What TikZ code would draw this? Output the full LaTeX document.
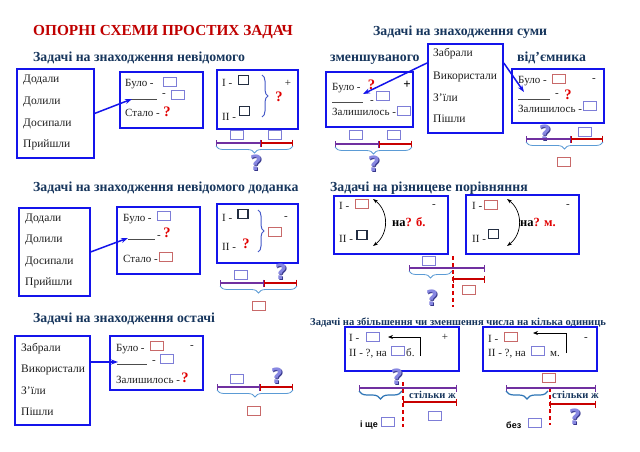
\documentclass[tikz,border=0pt]{standalone}
\usepackage{fontspec}
\setmainfont{Liberation Serif}
\newfontfamily\sansf{Liberation Sans}
\newfontfamily\qfont{DejaVu Sans}
\usetikzlibrary{decorations.pathreplacing,arrows.meta}
\definecolor{bx}{RGB}{20,20,235}
\definecolor{ttlc}{RGB}{23,54,93}
\definecolor{mred}{RGB}{192,0,0}
\definecolor{qred}{RGB}{225,0,0}
\definecolor{sqbc}{RGB}{125,125,215}
\definecolor{sqrc}{RGB}{200,105,105}
\definecolor{sqdc}{RGB}{35,45,65}
\definecolor{purp}{RGB}{112,48,160}
\definecolor{lred}{RGB}{200,0,0}
\definecolor{brc}{RGB}{91,155,213}
\definecolor{brd}{RGB}{46,117,182}
\definecolor{vbr}{RGB}{70,90,200}
\definecolor{qlav}{RGB}{135,135,225}
\definecolor{qdark}{RGB}{55,55,140}
\definecolor{txtc}{RGB}{30,30,30}
\newcommand\bigQ[3]{\node[bqd] (#1d) at (#2+0.9,#3+0.9) {?}; \node[bq] (#1) at (#2,#3) {?};}
\begin{document}
\begin{tikzpicture}[x=1pt,y=-1pt,
  box/.style={draw=bx,line width=1.8pt,anchor=north west,inner sep=0,fill=white},
  t/.style={anchor=base west,inner sep=0,text=txtc,font=\fontsize{11.5}{13}\selectfont},
  tb/.style={anchor=base west,inner sep=0,text=txtc,font=\fontsize{11}{13}\selectfont},
  tc/.style={inner sep=0,text=txtc,font=\fontsize{11}{13}\selectfont},
  ttl/.style={anchor=base west,inner sep=0,text=ttlc,font=\bfseries\fontsize{13.8}{16}\selectfont},
  rq/.style={inner sep=0,text=qred,font=\bfseries\fontsize{14.5}{16}\selectfont},
  sqb/.style={draw=sqbc,line width=0.8pt,minimum width=13pt,minimum height=9pt,inner sep=0},
  sqr/.style={draw=sqrc,line width=0.8pt,minimum width=13pt,minimum height=9pt,inner sep=0},
  sqd/.style={draw=sqdc,line width=1.3pt,minimum width=10pt,minimum height=9.5pt,inner sep=0},
  bq/.style={inner sep=0,text=qlav,font=\qfont\bfseries\fontsize{21}{22}\selectfont},
  bqd/.style={inner sep=0,text=qdark,font=\qfont\bfseries\fontsize{21}{22}\selectfont},
  bar/.style={line width=1.3pt,{Bar[width=7pt]}-{Bar[width=7pt]}},
  pl/.style={bar,draw=purp},
  rl/.style={bar,draw=lred},
  br/.style={decorate,decoration={brace,amplitude=7pt},draw=brc,line width=0.8pt},
  vb/.style={decorate,decoration={brace,amplitude=6pt},draw=vbr,line width=1pt},
  barr/.style={draw=bx,line width=1.5pt,-{Stealth[length=7pt,width=5pt]}},
  uline/.style={draw=black!70,line width=0.6pt},
  dbl/.style={draw=black,line width=0.7pt,{Stealth[length=5pt,width=3.5pt]}-{Stealth[length=5pt,width=3.5pt]}},
  sarr/.style={draw=black,line width=0.8pt,-{Stealth[length=5pt,width=4pt]}},
  rdash/.style={draw=red!85!black,line width=1.2pt,dash pattern=on 4pt off 3pt},
  sj/.style={anchor=base west,inner sep=0,text=ttlc,font=\bfseries\fontsize{10.6}{12}\selectfont},
  sb/.style={anchor=base west,inner sep=0,text=black,font=\sansf\bfseries\fontsize{9}{11}\selectfont}
]
\useasboundingbox[fill=white] (0,0) rectangle (640,452);

% ===== Title =====
\node[anchor=base west,inner sep=0,text=mred,font=\bfseries\fontsize{15.3}{17}\selectfont] (title) at (33,36) {ОПОРНІ СХЕМИ ПРОСТИХ ЗАДАЧ};

% ===== Section 1 =====
\node[ttl] (s1t) at (33,62) {Задачі на знаходження невідомого};
\node[box,minimum width=77pt,minimum height=89pt] (L1) at (16,68) {};
\node[t] (L1a) at (23,83) {Додали};
\node[t] (L1b) at (23,104) {Долили};
\node[t] (L1c) at (23,126) {Досипали};
\node[t] (L1d) at (23,147) {Прийшли};

\node[box,minimum width=83pt,minimum height=56pt] (B1) at (119,71) {};
\node[tb] (B1a) at (125,86) {Було~-};
\node[sqb] (B1s1) at (169.5,81.5) {};
\draw[uline] (128,99) -- (157,99);
\node[tc] (B1m) at (164,95) {-};
\node[sqb] (B1s2) at (177.5,94.5) {};
\node[tb] (B1c) at (125,116) {Стало -};
\node[rq] (B1q) at (167,112) {?};
\coordinate (a1) at (132,99);
\draw[barr] (L1.east) -- (a1);

\node[box,minimum width=81pt,minimum height=59pt] (C1) at (216,69) {};
\node[tb] (C1a) at (222,86) {I -};
\node[sqd] (C1s1) at (243.5,80) {};
\node[tb] (C1b) at (222,121) {II -};
\node[sqd] (C1s2) at (244.5,111) {};
\draw[vb] (262,75) -- (262,117);
\node[tc] (C1p) at (288,83) {+};
\node[rq] (C1q) at (279,97) {?};
\node[sqb] (D1s1) at (236.5,135) {};
\node[sqb] (D1s2) at (274.5,135) {};
\draw[pl] (216,143) -- (261,143);
\draw[rl] (261,143) -- (293,143);
\draw[br] (293,146) -- (216,146);
\bigQ{D1q}{256}{163}

% ===== Section 2 =====
\node[ttl] (s2t) at (373,36) {Задачі на знаходження суми};
\node[ttl] (s2l) at (330,62) {зменшуваного};
\node[ttl] (s2r) at (517,62) {від'ємника};
\node[box,minimum width=75pt,minimum height=89pt] (R1) at (427,43) {};
\node[t] (R1a) at (433,57) {Забрали};
\node[t] (R1b) at (433,79) {Використали};
\node[t] (R1c) at (433,102) {З’їли};
\node[t] (R1d) at (433,122) {Пішли};

\node[box,minimum width=87pt,minimum height=55pt] (RL) at (325,71) {};
\node[tb] (RLa) at (332,90) {Було~-};
\node[rq] (RLq) at (371.5,85) {?};
\node[inner sep=0,font=\bfseries\fontsize{13}{15}\selectfont] (RLp) at (407,85) {+};
\draw[uline] (332,102) -- (363,102);
\node[tc,anchor=base] (RLm) at (372,103) {-};
\node[sqb] (RLs1) at (383,96) {};
\node[tb] (RLc) at (332,115) {Залишилось -};
\node[sqb] (RLs2) at (403.5,110.5) {};
\coordinate (a2) at (363,94);
\draw[barr] ([yshift=-20pt]R1.north west) -- (a2);
\node[sqb] (D2s1) at (356,135) {};
\node[sqb] (D2s2) at (394,135) {};
\draw[pl] (335,144) -- (379,144);
\draw[rl] (379,144) -- (412,144);
\draw[br] (412,147) -- (335,147);
\bigQ{D2q}{374}{164}

\node[box,minimum width=92pt,minimum height=54pt] (RR) at (511,68) {};
\node[tb] (RRa) at (518,84) {Було~-};
\node[sqr] (RRs1) at (559,79) {};
\node[tc] (RRm1) at (594,80) {-};
\draw[uline] (518,99) -- (550,99);
\node[tc] (RRm2) at (557,95) {-};
\node[rq] (RRq) at (568,95) {?};
\node[tb] (RRc) at (518,113) {Залишилось -};
\node[sqb] (RRs2) at (589.5,106) {};
\coordinate (a3) at (524,92);
\draw[barr] ([yshift=-20pt]R1.north east) -- (a3);
\bigQ{D3q}{545}{133}
\node[sqb] (D3s1) at (585,132) {};
\draw[pl] (526,139) -- (571,139);
\draw[rl] (571,139) -- (603,139);
\draw[br] (603,142) -- (526,142);
\node[sqr] (D3s2) at (564,161.5) {};

% ===== Section 3 =====
\node[ttl] (s3t) at (33,191) {Задачі на знаходження невідомого доданка};
\node[box,minimum width=71pt,minimum height=88pt] (L3) at (18,207) {};
\node[t] (L3a) at (25,221) {Додали};
\node[t] (L3b) at (25,242) {Долили};
\node[t] (L3c) at (25,264) {Досипали};
\node[t] (L3d) at (25,285) {Прийшли};

\node[box,minimum width=83pt,minimum height=67pt] (B3) at (116,206) {};
\node[tb] (B3a) at (123,221) {Було~-};
\node[sqb] (B3s1) at (163.5,215.5) {};
\draw[uline] (128,239) -- (155,239);
\node[tc] (B3m) at (159,237) {-};
\node[rq] (B3q) at (167,233) {?};
\node[tb] (B3c) at (123,262) {Стало -};
\node[sqr] (B3s2) at (166,256.5) {};
\coordinate (a4) at (128,238);
\draw[barr] (L3.east) -- (a4);

\node[box,minimum width=81pt,minimum height=59pt] (C3) at (216,203) {};
\node[tb] (C3a) at (222,221) {I -};
\node[sqd] (C3s1) at (243,214) {};
\node[tb] (C3b) at (222,250) {II -};
\node[rq] (C3q) at (246,244) {?};
\draw[vb] (258,210) -- (258,252);
\node[sqr] (C3s2) at (274.5,232) {};
\node[tc] (C3m) at (286,218) {-};
\node[sqb] (D4s1) at (240.5,275) {};
\bigQ{D4q}{281}{272}
\draw[pl] (220,283) -- (264,283);
\draw[rl] (264,283) -- (297,283);
\draw[br] (297,286) -- (220,286);
\node[sqr] (D4s2) at (258.5,306) {};

% ===== Section 4 =====
\node[ttl] (s4t) at (330,191) {Задачі на різницеве порівняння};
\node[box,minimum width=114pt,minimum height=58pt] (A4) at (333,195) {};
\node[tb] (A4a) at (339,209) {I -};
\node[sqr] (A4s1) at (362,204) {};
\node[tb] (A4b) at (339,242) {II -};
\node[sqd] (A4s2) at (362,235) {};
\coordinate (c4a) at (373,199);
\coordinate (c4b) at (373,246);
\draw[dbl] (c4a) .. controls (389,211) and (389,234) .. (c4b);
\node[anchor=base west,inner sep=0,font=\bfseries\fontsize{12.5}{14}\selectfont] (A4n) at (392,226) {на\textcolor{qred}{? б.}};
\node[tc] (A4m) at (434,206) {-};

\node[box,minimum width=113pt,minimum height=59pt] (B4) at (465,194) {};
\node[tb] (B4a) at (472,209) {I -};
\node[sqr] (B4s1) at (491,204.5) {};
\node[tb] (B4b) at (472,242) {II -};
\node[sqd] (B4s2) at (493.5,234) {};
\coordinate (c4c) at (507,199);
\coordinate (c4d) at (507,246);
\draw[dbl] (c4c) .. controls (523,211) and (523,234) .. (c4d);
\node[anchor=base west,inner sep=0,font=\bfseries\fontsize{12.5}{14}\selectfont] (B4n) at (520,226) {на\textcolor{qred}{? м.}};
\node[tc] (B4m) at (568,206) {-};

\node[sqb] (D5s1) at (429,261) {};
\draw[rdash] (453,256) -- (453,307);
\draw[pl] (409,268) -- (485,268);
\draw[rl] (453,279) -- (485,279);
\node[sqr] (D5s2) at (469,290) {};
\draw[br] (452,271) -- (409,271);
\bigQ{D5q}{432}{298}

% ===== Section 5 =====
\node[ttl] (s5t) at (33,322) {Задачі на знаходження остачі};
\node[box,minimum width=75pt,minimum height=89pt] (L5) at (14,335) {};
\node[t] (L5a) at (21,351) {Забрали};
\node[t] (L5b) at (21,372) {Використали};
\node[t] (L5c) at (21,394) {З’їли};
\node[t] (L5d) at (21,415) {Пішли};

\node[box,minimum width=93pt,minimum height=54pt] (B5) at (109,335) {};
\node[tb] (B5a) at (116,351) {Було~-};
\node[sqr] (B5s1) at (156.5,345.5) {};
\node[tc] (B5m1) at (192,347) {-};
\draw[uline] (117,364) -- (147,364);
\node[tc] (B5m2) at (154,362) {-};
\node[sqb] (B5s2) at (166.5,358.5) {};
\node[tb] (B5c) at (116,383) {Залишилось -};
\node[rq] (B5q) at (185,378) {?};
\coordinate (a5) at (118,362);
\draw[barr] ([yshift=-27pt]L5.north east) -- (a5);

\node[sqb] (D6s1) at (236.5,379) {};
\bigQ{D6q}{277}{376}
\draw[pl] (217,387) -- (260,387);
\draw[rl] (260,387) -- (293,387);
\draw[br] (293,390) -- (217,390);
\node[sqr] (D6s2) at (254,410.5) {};

% ===== Section 6 =====
\node[sj] (s6t) at (310,325) {Задачі на збільшення чи зменшення числа на кілька одиниць};
\node[box,minimum width=114pt,minimum height=44pt] (A6) at (344,326) {};
\node[tb] (A6a) at (349,341) {I -};
\node[sqb] (A6s1) at (373,336.5) {};
\coordinate (c6a) at (420,356);
\coordinate (c6b) at (388,337);
\draw[sarr] (c6a) |- (c6b);
\node[tb] (A6b) at (349,356) {II - ?, на};
\node[sqb] (A6s2) at (397.5,351) {};
\node[tb] (A6c) at (406,356) {б.};
\node[tc] (A6p) at (445,337) {+};

\bigQ{D7q}{397}{377}
\draw[rdash] (403,382) -- (403,427);
\draw[pl] (359,388) -- (457,388);
\node[sj,font=\bfseries\fontsize{10.5}{12}\selectfont] (D7t) at (409,398) {стільки ж};
\draw[rl] (403,402) -- (457,402);
\draw[br,draw=brd,line width=1.2pt,decoration={brace,amplitude=8pt}] (402,391) -- (359,391);
\node[sqb] (D7s1) at (434.5,416) {};
\node[sb] (D7i) at (360,427) {і ще};
\node[sqb] (D7s2) at (388,422) {};

\node[box,minimum width=114pt,minimum height=44pt] (B6) at (482,326) {};
\node[tb] (B6a) at (488,342) {I -};
\node[sqr] (B6s1) at (511,337) {};
\coordinate (c6c) at (566,353);
\coordinate (c6d) at (533,333);
\draw[sarr] (c6c) |- (c6d);
\node[tb] (B6b) at (488,356) {II - ?, на};
\node[sqb] (B6s2) at (537.5,350.5) {};
\node[tb] (B6c) at (550,356) {м.};
\node[tc] (B6m) at (586,339) {-};

\node[sqr] (D8s1) at (548.5,378) {};
\draw[rdash] (550,388) -- (550,425);
\draw[pl] (506,388) -- (596,388);
\node[sj,font=\bfseries\fontsize{10.5}{12}\selectfont] (D8t) at (552,398) {стільки ж};
\draw[rl] (550,404) -- (596,404);
\draw[br,draw=brd,line width=1.2pt,decoration={brace,amplitude=8pt}] (548,391) -- (506,391);
\node[sb] (D8b) at (506,428) {без};
\node[sqb] (D8s2) at (534.5,422.5) {};
\bigQ{D8q}{575}{417}
\end{tikzpicture}
\end{document}
